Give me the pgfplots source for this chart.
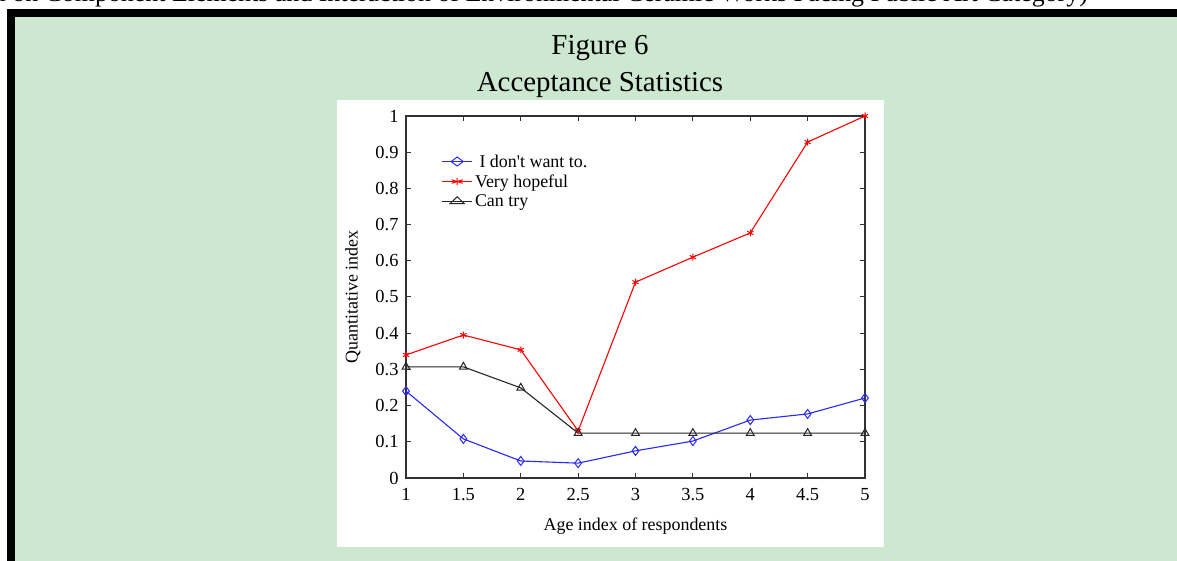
\documentclass[border=0pt]{standalone}
\usepackage{pgfplots}
\pgfplotsset{compat=1.18}
\usepackage{fontspec}
\setmainfont{Liberation Serif}
\definecolor{bggreen}{RGB}{204,232,208}
\definecolor{axgray}{RGB}{50,50,50}
\definecolor{lineblue}{RGB}{40,40,250}
\begin{document}
\begin{tikzpicture}
\useasboundingbox (0bp,0bp) rectangle (1177bp,561bp);
\clip (0bp,0bp) rectangle (1177bp,561bp);
\fill[white] (0bp,0bp) rectangle (1177bp,561bp);
\node[anchor=base east, inner sep=0pt, font=\fontsize{26}{28}\selectfont] at (1088bp,559bp) {Research on Component Elements and Interaction of Environmental Ceramic Works Facing Public Art Category)};
\fill[bggreen] (15bp,0bp) rectangle (1177bp,544bp);
\fill[black] (7bp,0bp) rectangle (15bp,552bp);
\fill[black] (7bp,544bp) rectangle (1177bp,552bp);
\node[anchor=base, font=\fontsize{29}{32}\selectfont] at (600bp,506bp) {Figure 6};
\node[anchor=base, font=\fontsize{29}{32}\selectfont] at (600bp,469bp) {Acceptance Statistics};
\fill[white] (337bp,14bp) rectangle (884bp,461bp);
\begin{axis}[
  at={(406bp,83bp)}, anchor=south west,
  scale only axis, width=459bp, height=362bp,
  xmin=1, xmax=5, ymin=0, ymax=1,
  xtick={1,1.5,...,5}, ytick={0,0.1,...,1},
  xticklabels={1,1.5,2,2.5,3,3.5,4,4.5,5},
  yticklabels={0,0.1,0.2,0.3,0.4,0.5,0.6,0.7,0.8,0.9,1},
  tick align=inside, tick pos=both,
  major tick length=5bp,
  axis line style={axgray, line width=1.2pt},
  every tick/.style={axgray, line width=1pt},
  tick label style={font=\fontsize{18.5}{20}\selectfont, text=black},
  /pgf/number format/assume math mode=true,
  xlabel={Age index of respondents},
  ylabel={Quantitative index},
  label style={font=\fontsize{18}{20}\selectfont},
  xlabel style={at={(axis description cs:0.5,0)}, anchor=north, yshift=-36bp},
  ylabel style={at={(axis description cs:0,0.5)}, anchor=south, yshift=42bp},
  xticklabel style={yshift=-7bp},
  yticklabel style={xshift=-4bp},
  legend style={at={(0.07,0.905)}, anchor=north west, draw=none, fill=none,
    font=\fontsize{18}{20}\selectfont, row sep=2bp},
  legend cell align=left,
  legend image post style={xscale=1.8},
  clip=false,
]
\addplot[lineblue, line width=1.1pt, mark=diamond, mark size=4.5bp, mark options={solid, fill=none, line width=1pt}]
coordinates {(1,0.240) (1.5,0.108) (2,0.047) (2.5,0.041) (3,0.075) (3.5,0.102) (4,0.160) (4.5,0.177) (5,0.221)};
\addlegendentry{\ I don\textquotesingle t want to.}
\addplot[red, line width=1.1pt, mark=asterisk, mark size=3.5bp, mark options={solid, line width=1pt}]
coordinates {(1,0.340) (1.5,0.395) (2,0.354) (2.5,0.130) (3,0.541) (3.5,0.610) (4,0.677) (4.5,0.928) (5,1.000)};
\addlegendentry{Very hopeful}
\addplot[black!85, line width=1.1pt, mark=triangle, mark size=4.5bp, mark options={solid, fill=none, line width=1pt}]
coordinates {(1,0.307) (1.5,0.307) (2,0.249) (2.5,0.124) (3,0.124) (3.5,0.124) (4,0.124) (4.5,0.124) (5,0.124)};
\addlegendentry{Can try}
\end{axis}
\end{tikzpicture}
\end{document}
